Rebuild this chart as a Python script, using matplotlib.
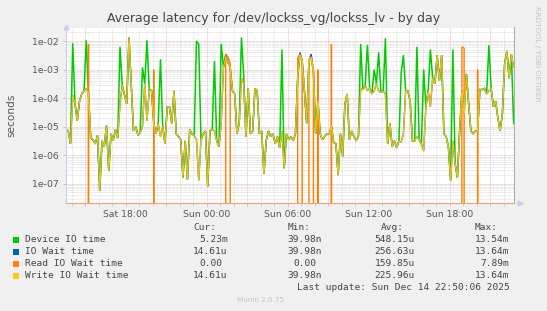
import math
import matplotlib
matplotlib.use("Agg")
import matplotlib.pyplot as plt
import matplotlib.dates as mdates
from matplotlib.ticker import FuncFormatter, LogLocator, NullFormatter
from matplotlib.patches import Rectangle
import pandas as pd

# ---------------- data ----------------
title = "Average latency for /dev/lockss_vg/lockss_lv - by day"
start_time = "2025-12-13 13:35"
step = "10min"
x_start = "2025-12-13 13:35"
x_end = "2025-12-14 22:48"

write_io_wait = [
    7.9e-6, 7.1e-6, 2.5e-6, 1.3e-4, 6.3e-5, 1.6e-5, 7.9e-5, 1.4e-4, 1.8e-4, 2.2e-4,
    1.4e-4, 4.0e-6, 3.5e-6, 2.5e-6, 5.0e-6, 5.6e-8, 3.2e-6, 2.0e-6, 1.1e-5, 2.8e-7,
    5.6e-6, 3.2e-6, 7.9e-6, 4.0e-6, 6.3e-5, 2.8e-4, 1.3e-4, 6.3e-5, 1.36e-2, 3.2e-4,
    7.1e-6, 1.0e-5, 5.0e-6, 6.3e-6, 1.0e-5, 3.2e-4, 1.6e-5, 1.8e-4, 2.0e-4, 1.3e-5,
    5.6e-6, 1.3e-5, 4.5e-6, 1.0e-5, 2.5e-6, 5.0e-5, 5.0e-5, 1.3e-5, 1.8e-4, 5.6e-6,
    4.5e-6, 3.5e-6, 1.6e-7, 3.2e-6, 1.4e-7, 7.9e-6, 5.6e-6, 5.0e-6, 3.5e-6, 1.3e-7,
    3.5e-6, 5.6e-6, 7.1e-6, 7.9e-8, 7.1e-6, 7.9e-6, 7.1e-6, 3.2e-6, 2.0e-6, 1.3e-5,
    1.2e-3, 2.7e-3, 1.8e-3, 1.2e-3, 1.8e-4, 1.4e-4, 5.6e-6, 1.3e-5, 5.0e-4, 3.2e-4,
    4.5e-6, 2.2e-4, 5.6e-6, 7.1e-6, 2.2e-4, 1.8e-4, 5.6e-6, 7.1e-6, 2.2e-7, 3.2e-6,
    7.1e-6, 4.5e-6, 5.6e-6, 2.5e-6, 4.5e-6, 1.8e-6, 7.1e-6, 3.5e-7, 5.6e-6, 3.5e-6,
    4.5e-6, 3.2e-6, 5.6e-6, 5.0e-4, 3.2e-3, 2.0e-3, 1.8e-4, 1.3e-5, 2.0e-3, 2.7e-3,
    8.9e-4, 5.6e-6, 7.9e-5, 5.6e-6, 3.5e-6, 4.5e-6, 5.6e-6, 5.6e-6, 1.0e-5, 2.8e-6,
    2.5e-6, 2.0e-7, 5.6e-6, 8.9e-7, 6.3e-5, 1.4e-4, 3.5e-6, 7.1e-6, 4.5e-6, 3.2e-6,
    4.5e-6, 2.2e-4, 2.0e-4, 2.8e-4, 1.8e-4, 2.2e-4, 1.4e-4, 1.8e-4, 3.2e-4, 1.8e-4,
    1.6e-4, 1.8e-4, 1.4e-4, 2.5e-6, 1.3e-5, 2.0e-6, 3.2e-6, 1.8e-6, 3.2e-6, 2.8e-6,
    5.6e-6, 1.8e-4, 1.8e-4, 7.9e-5, 3.2e-6, 3.2e-6, 4.5e-6, 3.5e-6, 2.5e-6, 1.4e-6,
    5.0e-5, 1.8e-4, 5.0e-5, 5.0e-4, 3.2e-4, 3.2e-3, 4.0e-4, 3.2e-3, 5.6e-6, 4.5e-6,
    2.0e-6, 1.3e-7, 3.2e-6, 5.0e-7, 1.6e-7, 7.1e-6, 1.8e-4, 2.8e-5, 7.1e-4, 6.3e-5,
    7.1e-6, 5.6e-6, 7.1e-6, 7.1e-6, 2.0e-4, 2.0e-4, 2.2e-4, 1.4e-4, 1.8e-4, 2.2e-4,
    5.0e-5, 7.9e-5, 2.0e-5, 7.1e-6, 2.8e-5, 1.6e-3, 4.5e-3, 5.0e-4, 3.5e-3, 1.2e-3,
]

device_io_time = [
    7.9e-6, 7.1e-6, 2.5e-6, 8.3e-3, 6.3e-5, 1.6e-5, 7.9e-5, 1.4e-4, 1.8e-4, 1.07e-2,
    1.4e-4, 4.0e-6, 3.5e-6, 2.5e-6, 5.0e-6, 5.6e-8, 3.2e-6, 2.0e-6, 1.1e-5, 2.8e-7,
    5.6e-6, 3.2e-6, 7.9e-6, 4.0e-6, 6.3e-3, 2.8e-4, 1.3e-4, 6.3e-5, 1.3e-2, 3.2e-4,
    7.1e-6, 1.0e-5, 5.0e-6, 6.3e-6, 1.2e-3, 3.2e-4, 1.07e-2, 1.8e-4, 2.0e-4, 1.3e-5,
    5.6e-6, 1.3e-5, 2.3e-3, 1.0e-5, 2.5e-6, 5.0e-5, 5.0e-5, 1.3e-5, 1.8e-4, 5.6e-6,
    4.5e-6, 3.5e-6, 1.6e-7, 3.2e-6, 1.4e-7, 7.9e-6, 5.6e-6, 5.0e-6, 1.0e-2, 7.9e-3,
    3.5e-6, 5.6e-6, 7.1e-6, 7.9e-8, 7.1e-6, 7.9e-6, 2.0e-3, 3.2e-6, 2.0e-6, 7.9e-3,
    1.2e-3, 2.7e-3, 1.8e-3, 1.2e-3, 1.8e-4, 1.4e-4, 5.6e-6, 1.3e-5, 1.35e-2, 6.3e-4,
    4.5e-6, 2.2e-4, 5.6e-6, 7.1e-6, 2.2e-4, 1.8e-4, 5.6e-6, 7.1e-6, 2.2e-7, 3.2e-6,
    7.1e-6, 4.5e-6, 5.6e-6, 2.5e-6, 4.5e-6, 1.8e-6, 5.0e-3, 3.5e-7, 5.6e-6, 3.5e-6,
    4.5e-6, 3.2e-6, 5.6e-6, 5.0e-4, 3.2e-3, 2.0e-3, 1.8e-4, 1.3e-5, 2.0e-3, 2.7e-3,
    8.9e-4, 5.6e-6, 7.9e-5, 5.6e-6, 3.5e-6, 4.5e-6, 5.6e-6, 5.6e-6, 1.0e-5, 2.8e-6,
    2.5e-6, 2.0e-7, 5.6e-6, 8.9e-7, 6.3e-5, 1.4e-4, 3.5e-6, 7.1e-6, 4.5e-6, 3.2e-6,
    4.5e-6, 7.9e-3, 2.0e-4, 2.8e-4, 7.4e-3, 2.2e-4, 1.4e-4, 1.0e-3, 3.2e-4, 4.0e-3,
    1.6e-4, 1.8e-4, 1.26e-2, 2.5e-6, 1.3e-5, 2.0e-6, 3.2e-6, 1.8e-6, 3.2e-6, 7.4e-4,
    3.2e-3, 1.8e-4, 1.8e-4, 7.9e-5, 3.2e-6, 3.2e-6, 6.3e-3, 3.5e-6, 2.5e-6, 1.0e-3,
    5.0e-5, 1.8e-4, 5.0e-3, 5.0e-4, 3.2e-4, 3.2e-3, 4.0e-4, 3.2e-3, 5.6e-6, 4.5e-6,
    2.0e-6, 1.3e-7, 5.0e-3, 5.0e-7, 1.6e-7, 7.1e-6, 1.8e-4, 2.8e-5, 7.1e-4, 6.3e-5,
    7.1e-6, 5.6e-6, 7.1e-6, 7.1e-6, 2.0e-4, 2.0e-4, 2.2e-4, 1.4e-4, 7.1e-3, 2.2e-4,
    5.0e-5, 7.9e-5, 2.0e-5, 7.1e-6, 2.8e-5, 1.6e-3, 4.5e-3, 5.0e-4, 3.5e-3, 1.3e-5,
]

io_wait_time = [
    7.9e-6, 7.1e-6, 2.5e-6, 1.3e-4, 6.3e-5, 1.6e-5, 7.9e-5, 1.4e-4, 1.8e-4, 2.2e-4,
    1.4e-4, 4.0e-6, 3.5e-6, 2.5e-6, 5.0e-6, 5.6e-8, 3.2e-6, 2.0e-6, 1.1e-5, 2.8e-7,
    5.6e-6, 3.2e-6, 7.9e-6, 4.0e-6, 6.3e-5, 2.8e-4, 1.3e-4, 6.3e-5, 1.36e-2, 3.2e-4,
    7.1e-6, 1.0e-5, 5.0e-6, 6.3e-6, 1.0e-5, 3.2e-4, 1.6e-5, 1.8e-4, 2.0e-4, 1.3e-5,
    5.6e-6, 1.3e-5, 4.5e-6, 1.0e-5, 2.5e-6, 5.0e-5, 5.0e-5, 1.3e-5, 1.8e-4, 5.6e-6,
    4.5e-6, 3.5e-6, 1.6e-7, 3.2e-6, 1.4e-7, 7.9e-6, 5.6e-6, 5.0e-6, 3.5e-6, 1.3e-7,
    3.5e-6, 5.6e-6, 7.1e-6, 7.9e-8, 7.1e-6, 7.9e-6, 7.1e-6, 3.2e-6, 2.0e-6, 1.3e-5,
    1.2e-3, 3.5e-3, 1.8e-3, 1.2e-3, 1.8e-4, 1.4e-4, 5.6e-6, 1.3e-5, 5.0e-4, 3.2e-4,
    4.5e-6, 2.2e-4, 5.6e-6, 7.1e-6, 2.2e-4, 1.8e-4, 5.6e-6, 7.1e-6, 2.2e-7, 3.2e-6,
    7.1e-6, 4.5e-6, 5.6e-6, 2.5e-6, 4.5e-6, 1.8e-6, 7.1e-6, 3.5e-7, 5.6e-6, 3.5e-6,
    4.5e-6, 3.2e-6, 5.6e-6, 5.0e-4, 4.0e-3, 2.0e-3, 1.8e-4, 1.3e-5, 2.0e-3, 3.5e-3,
    8.9e-4, 5.6e-6, 7.9e-5, 5.6e-6, 3.5e-6, 4.5e-6, 5.6e-6, 5.6e-6, 1.0e-5, 2.8e-6,
    2.5e-6, 2.0e-7, 5.6e-6, 8.9e-7, 6.3e-5, 1.4e-4, 3.5e-6, 7.1e-6, 4.5e-6, 3.2e-6,
    4.5e-6, 2.2e-4, 2.0e-4, 2.8e-4, 1.8e-4, 2.2e-4, 1.4e-4, 1.8e-4, 3.2e-4, 1.8e-4,
    1.6e-4, 1.8e-4, 1.4e-4, 2.5e-6, 1.3e-5, 2.0e-6, 3.2e-6, 1.8e-6, 3.2e-6, 2.8e-6,
    5.6e-6, 1.8e-4, 1.8e-4, 7.9e-5, 3.2e-6, 3.2e-6, 4.5e-6, 3.5e-6, 2.5e-6, 1.4e-6,
    5.0e-5, 1.8e-4, 5.0e-5, 5.0e-4, 3.2e-4, 3.2e-3, 4.0e-4, 3.2e-3, 5.6e-6, 4.5e-6,
    2.0e-6, 1.3e-7, 3.2e-6, 5.0e-7, 1.6e-7, 7.1e-6, 1.8e-4, 4.0e-5, 7.1e-4, 6.3e-5,
    7.1e-6, 5.6e-6, 7.1e-6, 7.1e-6, 2.0e-4, 2.0e-4, 2.2e-4, 1.4e-4, 1.8e-4, 2.2e-4,
    5.0e-5, 7.9e-5, 2.0e-5, 7.1e-6, 2.8e-5, 1.6e-3, 4.5e-3, 5.0e-4, 3.5e-3, 1.2e-3,
]

read_io_wait = [
    0, 0, 0, 0, 0, 0, 0, 0, 0, 0,
    7.9e-3, 0, 0, 0, 0, 0, 0, 0, 0, 0,
    0, 0, 0, 0, 0, 0, 0, 0, 0, 0,
    0, 0, 0, 0, 0, 0, 0, 0, 0, 1.0e-3,
    0, 0, 0, 0, 0, 0, 0, 0, 0, 0,
    0, 0, 0, 0, 0, 0, 0, 0, 0, 0,
    0, 0, 0, 0, 0, 0, 0, 0, 0, 0,
    0, 3.5e-3, 2.8e-3, 1.6e-3, 0, 0, 0, 0, 0, 0,
    0, 0, 0, 0, 0, 0, 0, 0, 0, 0,
    0, 0, 0, 0, 0, 0, 0, 0, 0, 0,
    0, 0, 0, 2.5e-3, 3.5e-3, 2.0e-3, 0, 0, 2.0e-3, 2.8e-3,
    7.9e-4, 0, 1.0e-3, 0, 0, 0, 0, 0, 7.9e-3, 0,
    0, 0, 0, 0, 0, 0, 0, 0, 0, 0,
    0, 0, 0, 0, 0, 0, 0, 0, 0, 0,
    0, 0, 0, 0, 0, 0, 0, 0, 0, 0,
    0, 0, 0, 0, 0, 0, 0, 0, 0, 0,
    0, 0, 0, 0, 0, 0, 0, 0, 0, 0,
    0, 0, 0, 0, 0, 0, 6.3e-3, 5.6e-3, 0, 0,
    0, 0, 0, 1.0e-3, 0, 0, 0, 0, 0, 0,
    0, 0, 0, 0, 0, 0, 0, 0, 0, 0,
]

series_names = ["Device IO time", "IO Wait time", "Read IO Wait time", "Write IO Wait time"]
series_colors = ["#00CC00", "#0066B3", "#FF8000", "#FFCC00"]
cur_vals = ["5.23m", "14.61u", "0.00", "14.61u"]
min_vals = ["39.98n", "39.98n", "0.00", "39.98n"]
avg_vals = ["548.15u", "256.63u", "159.85u", "225.96u"]
max_vals = ["13.54m", "13.64m", "7.89m", "13.64m"]
last_update = "Last update: Sun Dec 14 22:50:06 2025"
footer = "Munin 2.0.75"
side_text = "RRDTOOL / TOBI OETIKER"
y_min, y_max = 2.12e-8, 3.1e-2

# ---------------- figure ----------------
W, H = 547, 311
fig = plt.figure(figsize=(W / 100, H / 100), dpi=100, facecolor="#F0F0F0")


def fx(px):
    return px / W


def fy(py):
    return 1 - py / H


ax = fig.add_axes([fx(66), fy(203), (514.3 - 66) / W, (203 - 27) / H])
ax.set_facecolor("white")

times = pd.date_range(start_time, periods=len(write_io_wait), freq=step).to_pydatetime()

ax.set_yscale("log", nonpositive="clip")
ax.set_ylim(y_min, y_max)
ax.set_xlim(pd.Timestamp(x_start).to_pydatetime(), pd.Timestamp(x_end).to_pydatetime())

# grid
minor_col = "#D6D6D6"
major_col = "#E8B0B0"
dot = (0, (0.8, 0.8))
ax.xaxis.set_major_locator(mdates.HourLocator(byhour=range(0, 24, 3)))
ax.xaxis.set_minor_locator(mdates.HourLocator())


def xfmt(v, pos):
    d = mdates.num2date(v)
    return d.strftime("%a %H:%M") if d.hour % 6 == 0 else ""


def yfmt(v, pos):
    return "1e%+03d" % round(math.log10(v))


ax.xaxis.set_major_formatter(FuncFormatter(xfmt))
ax.yaxis.set_major_locator(LogLocator(base=10, numticks=20))
ax.yaxis.set_minor_locator(LogLocator(base=10, subs=range(2, 10), numticks=20))
ax.yaxis.set_minor_formatter(NullFormatter())
ax.yaxis.set_major_formatter(FuncFormatter(yfmt))

ax.grid(which="minor", color=minor_col, linestyle=dot, linewidth=0.6)
ax.grid(which="major", color=major_col, linestyle=dot, linewidth=0.6)
ax.set_axisbelow(True)

# series: draw order as in rrdtool
data = [device_io_time, io_wait_time, read_io_wait, write_io_wait]
widths = [1.1, 1.0, 1.0, 0.95]
alphas = [1.0, 1.0, 1.0, 0.93]
for vals, col, lw, a in zip(data, series_colors, widths, alphas):
    ax.plot(times, vals, color=col, linewidth=lw, alpha=a, solid_joinstyle="miter")

# spines
ax.spines["top"].set_visible(False)
ax.spines["right"].set_color("#A8A8A8")
ax.spines["right"].set_linewidth(0.7)
ax.spines["left"].set_color("#C8D0EC")
ax.spines["left"].set_linewidth(0.8)
ax.spines["bottom"].set_color("#F2A070")
ax.spines["bottom"].set_linewidth(0.8)

ax.tick_params(axis="both", which="major", labelsize=6.7, labelcolor="#555555",
               length=2, width=0.6, color="#E6A8A8")
ax.tick_params(axis="x", which="major", pad=3)
ax.tick_params(axis="y", which="major", pad=3)
ax.tick_params(axis="x", which="minor", length=2, width=0.6, color="#C8C8C8")
ax.tick_params(axis="y", which="minor", length=0)

# axis arrows
ax.plot([0], [1.0], marker="^", markersize=3.5, color="#C8D0EC",
        transform=ax.transAxes, clip_on=False)
ax.plot([1.012], [0], marker=">", markersize=3.5, color="#C8D0EC",
        transform=ax.transAxes, clip_on=False)

# texts
fig.text(fx(273.5), fy(22), title, ha="center", va="baseline",
         fontsize=9, color="#444444")
fig.text(fx(11), fy(115), "seconds", rotation=90, ha="center", va="center",
         fontsize=7.6, color="#555555")
fig.text(fx(537.5), fy(53.5), side_text, rotation=270, ha="center", va="center",
         fontsize=5.4, color="#C4C4C4")

mono = "DejaVu Sans Mono"
fs = 6.84
cw = 0.602 * fs * 100 / 72
tcol = "#444444"

headers = [("Cur:", 227.7), ("Min:", 321.7), ("Avg:", 415.0), ("Max:", 509.3)]
for h, xr in headers:
    fig.text(fx(xr - 2 * cw), fy(228), h, ha="right", va="center",
             fontsize=fs, family=mono, color=tcol)

row_y = [239.5, 251.5, 263.5, 275.5]
cols = [(cur_vals, 227.7), (min_vals, 321.7), (avg_vals, 415.0), (max_vals, 509.3)]
for k, name in enumerate(series_names):
    y = row_y[k]
    fig.patches.append(Rectangle((fx(13.3), fy(y + 3)), 6 / W, 6 / H,
                                 transform=fig.transFigure,
                                 facecolor=series_colors[k], edgecolor="none"))
    fig.text(fx(25), fy(y), name, ha="left", va="center",
             fontsize=fs, family=mono, color=tcol)
    for vals, xr in cols:
        v = vals[k]
        off = 0 if v[-1].isalpha() else cw
        fig.text(fx(xr - off), fy(y), v, ha="right", va="center",
                 fontsize=fs, family=mono, color=tcol)

fig.text(fx(509.3), fy(287.7), last_update, ha="right", va="center",
         fontsize=fs, family=mono, color=tcol)
fig.text(fx(260.7), fy(300), footer, ha="center", va="center",
         fontsize=5.2, color="#C4C4C4")

fig.savefig("out.png", dpi=100, facecolor=fig.get_facecolor())
